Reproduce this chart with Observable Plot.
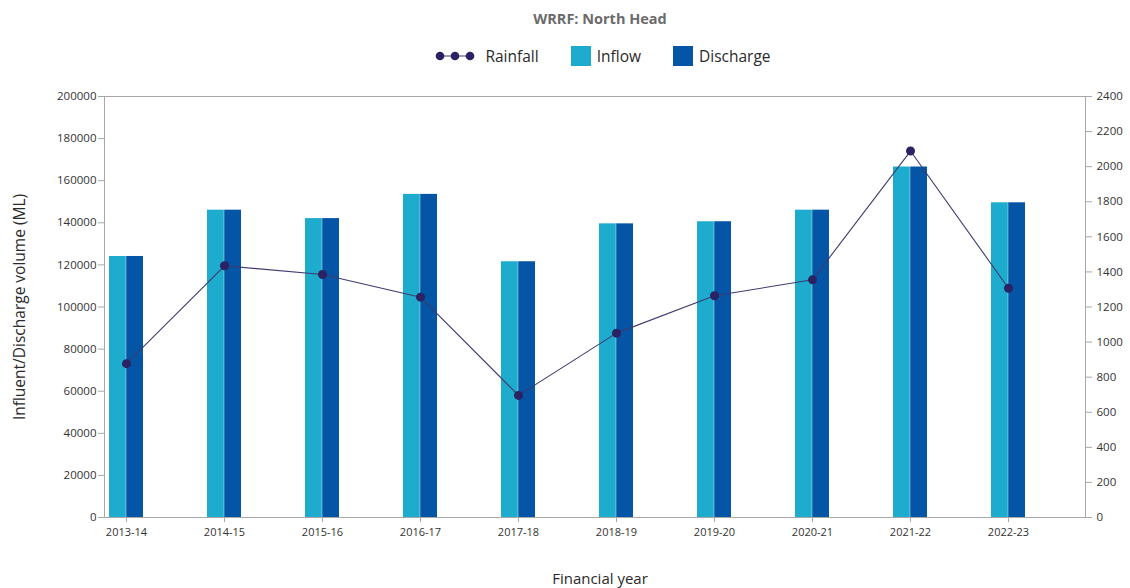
<!DOCTYPE html>
<html>
<head>
<meta charset="utf-8">
<script src="https://cdn.jsdelivr.net/npm/d3@7"></script>
<script src="https://cdn.jsdelivr.net/npm/@observablehq/plot@0.6"></script>
<style>
  html, body { margin: 0; padding: 0; background: #fff; }
  body { width: 1130px; height: 588px; overflow: hidden; font-family: "Open Sans", Lato, sans-serif; }
  #title { height: 36px; display: flex; align-items: center; justify-content: center; padding-left: 70px; font-weight: 700; font-size: 14.5px; color: #6b6b6b; box-sizing: border-box; }
  #legend { height: 40px; display: flex; align-items: center; justify-content: center; padding-left: 76px; box-sizing: border-box; font-size: 15.5px; color: #2a2a2a; }
  #legend .item { display: flex; align-items: center; margin: 0 16px; }
  #legend .sw { width: 20px; height: 20px; margin-right: 6px; }
  #spacer { height: 4px; }
  svg { display: block; }
</style>
</head>
<body>
<div id="title">WRRF: North Head</div>
<div id="legend"></div>
<div id="spacer"></div>
<div id="chart"></div>
<script>
const years = ["2013-14", "2014-15", "2015-16", "2016-17", "2017-18", "2018-19", "2019-20", "2020-21", "2021-22", "2022-23"];
const inflow = [124000, 146000, 142000, 153500, 121500, 139500, 140500, 146000, 166500, 149500];
const discharge = [124000, 146000, 142000, 153500, 121500, 139500, 140500, 146000, 166500, 149500];
const rainfall = [877, 1435, 1385, 1256, 696, 1051, 1264, 1355, 2089, 1307];
const leftTicks = [0, 20000, 40000, 60000, 80000, 100000, 120000, 140000, 160000, 180000, 200000];
const rightTicks = [0, 200, 400, 600, 800, 1000, 1200, 1400, 1600, 1800, 2000, 2200, 2400];

const colors = { inflow: "#1DACCE", discharge: "#0455A6", rain: "#2A2262", rainLine: "#3E3B6E" };
const yMax = 200000, rMax = 2400, k = yMax / rMax;

const data = years.map((year, i) => ({ year, inflow: inflow[i], discharge: discharge[i], rain: rainfall[i] }));

// Legend (HTML)
const legend = document.getElementById("legend");
legend.innerHTML = `
  <div class="item"><svg width="40" height="12" style="margin-right:10px">
    <line x1="3" y1="6" x2="37" y2="6" stroke="${colors.rainLine}" stroke-width="1.2"/>
    <circle cx="5" cy="6" r="4.3" fill="${colors.rain}"/>
    <circle cx="20" cy="6" r="4.3" fill="${colors.rain}"/>
    <circle cx="35" cy="6" r="4.3" fill="${colors.rain}"/>
  </svg><span>Rainfall</span></div>
  <div class="item"><div class="sw" style="background:${colors.inflow}"></div><span>Inflow</span></div>
  <div class="item"><div class="sw" style="background:${colors.discharge}"></div><span>Discharge</span></div>`;

const chart = Plot.plot({
  width: 1130,
  height: 508,
  marginTop: 16,
  marginLeft: 104,
  marginRight: 45,
  marginBottom: 71,
  style: { fontFamily: "'Open Sans', Lato, sans-serif", fontSize: "11px", color: "#333", background: "#fff" },
  x: { type: "band", domain: years, range: [107, 1027], paddingInner: 0.651, paddingOuter: 0, label: null },
  y: { domain: [0, yMax], label: null },
  marks: [
    Plot.barY(data, { x: "year", y: "inflow", fill: colors.inflow, insetRight: 17.2 }),
    Plot.barY(data, { x: "year", y: "discharge", fill: colors.discharge, insetLeft: 17.2 }),
    Plot.frame({ stroke: "#a8a8a8" }),
    Plot.line(data, { x: "year", y: d => d.rain * k, stroke: colors.rainLine, strokeWidth: 1.1 }),
    Plot.dot(data, { x: "year", y: d => d.rain * k, r: 4.5, fill: colors.rain }),
    Plot.axisY({ ticks: leftTicks, tickFormat: d => String(d), tickSize: 6, tickPadding: 2, stroke: "#a8a8a8", fill: "#333", fontSize: 11.5, label: null }),
    Plot.axisY({ anchor: "right", ticks: rightTicks.map(v => v * k), tickFormat: v => String(Math.round(v / k)), tickSize: 6, tickPadding: 5, stroke: "#a8a8a8", fill: "#333", fontSize: 11.5, label: null }),
    Plot.axisX({ tickSize: 5, tickPadding: 6, stroke: "#a8a8a8", fill: "#333", fontSize: 11, label: null }),
    Plot.text(["Influent/Discharge volume (ML)"], { frameAnchor: "left", textAnchor: "middle", dx: -84, rotate: -90, fontSize: 15.5, fill: "#2a2a2a" }),
    Plot.text(["Financial year"], { frameAnchor: "bottom", textAnchor: "middle", dy: 66, dx: 5, fontSize: 15, fill: "#2a2a2a" })
  ]
});
document.getElementById("chart").appendChild(chart);
</script>
</body>
</html>
